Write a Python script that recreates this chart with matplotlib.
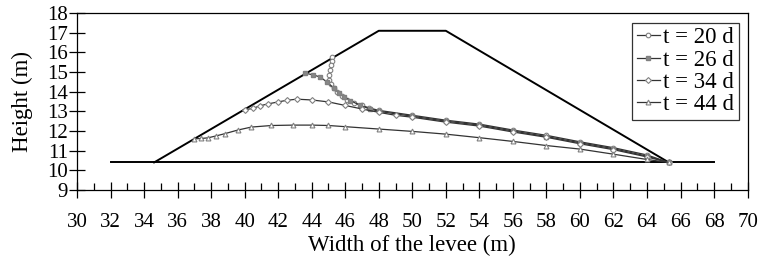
import matplotlib
matplotlib.use('Agg')
import matplotlib.pyplot as plt
from matplotlib.ticker import MultipleLocator

plt.rcParams['font.family'] = ['Liberation Serif', 'DejaVu Serif']

# levee outline and ground line
levee_x = [34.6, 48.0, 52.0, 65.3]
levee_y = [10.4, 17.1, 17.1, 10.4]
ground_x = [32.0, 68.0]
ground_y = [10.4, 10.4]

# phreatic lines
x_20 = [45.2, 45.2, 45.15, 45.1, 45.05, 45.05, 45.15, 45.3, 45.5, 45.8, 46.1, 46.5, 47.0, 47.4,
        48.0, 50.0, 52.0, 54.0, 56.0, 58.0, 60.0, 62.0, 64.0, 65.3]
y_20 = [15.75, 15.55, 15.35, 15.1, 14.85, 14.6, 14.4, 14.2, 14.0, 13.8, 13.6, 13.45, 13.3, 13.18,
        13.05, 12.8, 12.55, 12.35, 12.05, 11.78, 11.45, 11.15, 10.78, 10.4]

x_26 = [43.6, 44.1, 44.5, 44.9, 45.3, 45.6, 45.9, 46.3, 46.9, 47.5,
        48.0, 50.0, 52.0, 54.0, 56.0, 58.0, 60.0, 62.0, 64.0, 65.3]
y_26 = [14.95, 14.85, 14.75, 14.5, 14.2, 13.95, 13.75, 13.55, 13.3, 13.12,
        13.0, 12.75, 12.5, 12.3, 12.0, 11.72, 11.4, 11.1, 10.72, 10.4]

x_34 = [40.0, 40.5, 40.9, 41.4, 42.0, 42.5, 43.1, 44.0, 45.0, 46.0, 47.0,
        48.0, 49.0, 50.0, 52.0, 54.0, 56.0, 58.0, 60.0, 62.0, 64.0, 65.3]
y_34 = [13.08, 13.15, 13.28, 13.38, 13.48, 13.56, 13.62, 13.58, 13.48, 13.3, 13.12,
        12.95, 12.8, 12.7, 12.45, 12.25, 11.95, 11.68, 11.35, 11.05, 10.68, 10.4]

x_44 = [37.0, 37.4, 37.8, 38.3, 38.8, 39.6, 40.4, 41.6, 42.9, 44.0, 45.0, 46.0,
        48.0, 50.0, 52.0, 54.0, 56.0, 58.0, 60.0, 62.0, 64.0, 65.3]
y_44 = [11.6, 11.62, 11.65, 11.75, 11.86, 12.05, 12.2, 12.28, 12.3, 12.3, 12.28, 12.22,
        12.1, 11.98, 11.84, 11.66, 11.47, 11.26, 11.08, 10.82, 10.55, 10.4]

fig = plt.figure(figsize=(7.66, 2.62), dpi=100)
ax = fig.add_axes([0.1005, 0.275, 0.8755, 0.675])

ax.plot(levee_x, levee_y, color='black', lw=1.4)
ax.plot(ground_x, ground_y, color='black', lw=1.4)

mk = dict(color='#333333', lw=0.9, mfc='white', mec='#808080', mew=0.8)
ax.plot(x_20, y_20, marker='o', ms=3.3, label='t = 20 d', **mk)
ax.plot(x_26, y_26, marker='s', ms=2.2, label='t = 26 d',
        color='#333333', lw=0.9, mfc='#888888', mec='#808080')
ax.plot(x_34, y_34, marker='D', ms=3.0, label='t = 34 d', **mk)
ax.plot(x_44, y_44, marker='^', ms=3.5, label='t = 44 d', **mk)

ax.set_xlim(30, 70)
ax.set_ylim(9, 18)
ax.xaxis.set_major_locator(MultipleLocator(2))
ax.xaxis.set_minor_locator(MultipleLocator(1))
ax.yaxis.set_major_locator(MultipleLocator(1))
ax.tick_params(axis='x', which='major', direction='inout', length=11, width=0.9,
               labelsize=15, pad=11, top=False)
ax.tick_params(axis='x', which='minor', direction='in', length=5, width=0.9, top=False)
ax.tick_params(axis='y', which='major', direction='inout', length=11, width=0.9,
               labelsize=15, pad=1, right=False)
for s in ax.spines.values():
    s.set_linewidth(0.9)

ax.set_xlabel('Width of the levee (m)', fontsize=16.5, labelpad=2.5)
ax.set_ylabel('Height (m)', fontsize=16.5, labelpad=10)

leg = ax.legend(loc='upper right', bbox_to_anchor=(0.987, 0.945), fontsize=16.5,
                handlelength=1.0, handletextpad=0.15, labelspacing=0.05,
                borderpad=0.2, fancybox=False, framealpha=1, borderaxespad=0)
leg.get_frame().set_edgecolor('#333333')
leg.get_frame().set_linewidth(0.9)

fig.savefig('out.png', dpi=100)
